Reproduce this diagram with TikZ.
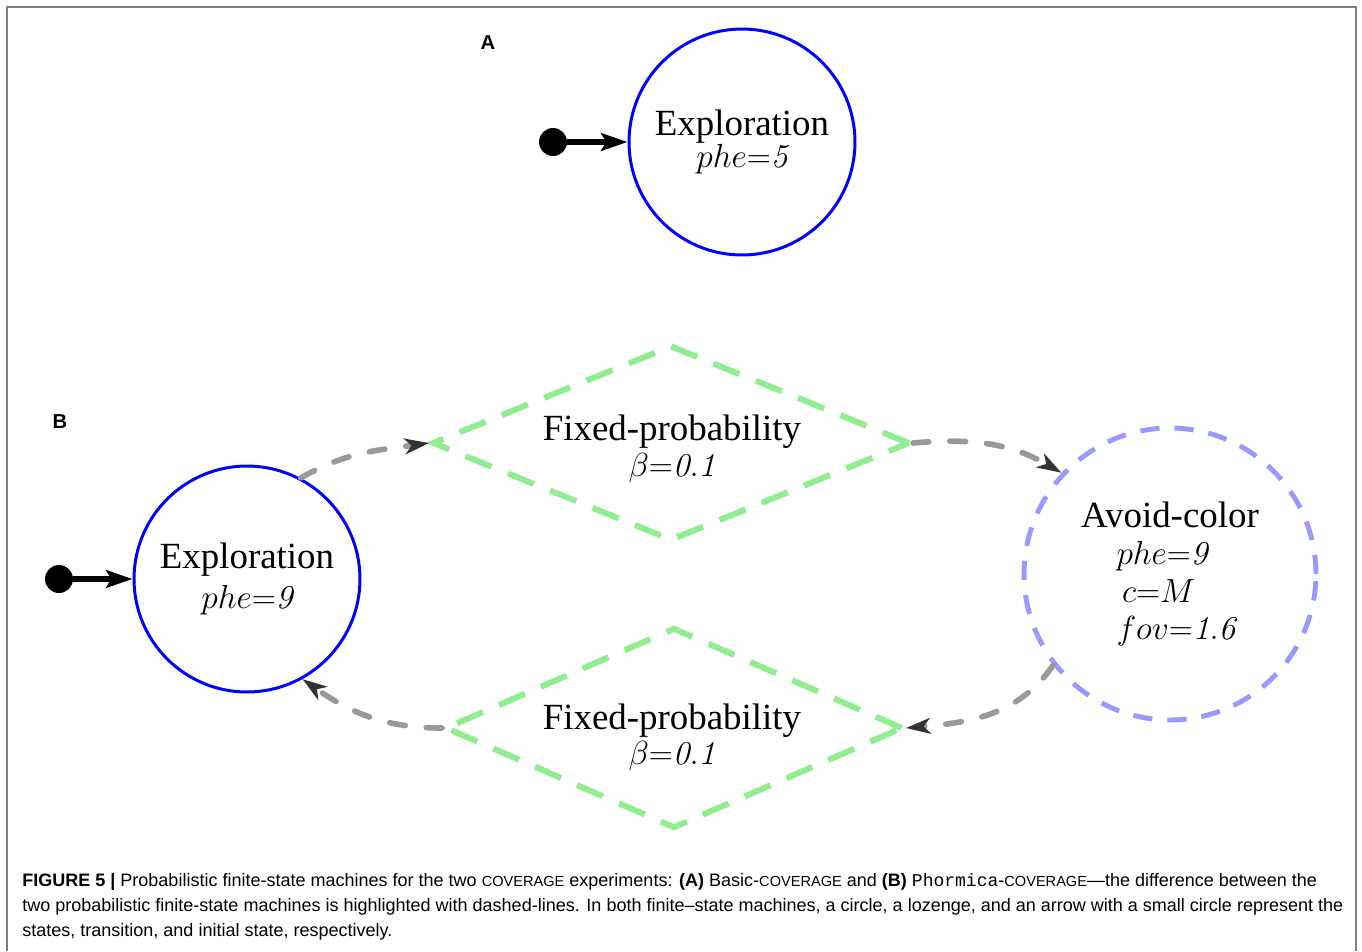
\RequirePackage{fix-cm}
\documentclass[tikz,border=0pt]{standalone}
\usepackage{fontspec}
\usepackage{tikz}
\usetikzlibrary{shapes.geometric,arrows.meta}

\newfontfamily\capfont{Liberation Sans}
\newfontfamily\capmono{Liberation Mono}
\newfontfamily\namefont{Liberation Serif}
\newcommand\capsmall[1]{{\fontsize{8.3}{9}\selectfont #1}}
\newcommand\statename[1]{{\namefont\fontsize{21}{25}\selectfont #1}}
\newcommand\paramline[1]{\makebox[2.14cm][l]{#1}}

\definecolor{stategreen}{HTML}{90EE90}
\definecolor{statelav}{HTML}{9999FF}
\definecolor{arrowgray}{HTML}{999999}

\tikzset{
  state/.style={circle, draw=blue, line width=1.7pt, minimum size=4.52cm, inner sep=0pt,
    align=center, font=\fontsize{19}{23}\selectfont},
  newstate/.style={state, draw=statelav, line width=2.8pt, dash pattern=on 11pt off 8.5pt,
    minimum size=5.84cm},
  lozenge/.style={diamond, draw=stategreen, line width=3.4pt, dash pattern=on 16pt off 10pt,
    inner sep=0pt, minimum width=9.56cm, minimum height=3.92cm},
  fixtext/.style={align=center, inner sep=0pt, font=\fontsize{19}{23}\selectfont},
  startdot/.style={circle, fill=black, minimum size=0.56cm, inner sep=0pt},
  startarrow/.style={-{Stealth[length=15pt,width=10pt,inset=3pt]}, line width=3.2pt},
  trans/.style={arrowgray, line width=3.2pt, line cap=round, dash pattern=on 9pt off 12pt,
    -{Stealth[length=14pt,width=9pt,inset=4pt,fill=gray!40!black,color=gray!40!black]}},
  panel/.style={font=\capfont\bfseries\fontsize{11.5}{13}\selectfont},
  capline/.style={anchor=west, inner sep=0pt, font=\capfont\fontsize{10.25}{12}\selectfont}
}

\begin{document}
\begin{tikzpicture}[x=0.02cm, y=0.02cm]
    \useasboundingbox (0,0) rectangle (1362,-951);

    % Marco de la figura
    \draw[gray, line width=0.8pt] (7,-951) -- (7,-7) -- (1356,-7) -- (1356,-951);

    % Etiquetas de los paneles
    \node[panel] (labA) at (488,-43) {A};
    \node[panel] (labB) at (60,-422) {B};

    % Panel A: un solo estado con estado inicial
    \node[state] (explA) at (742,-142) {\statename{Exploration}\\[-5pt]$phe{=}\mathit{5}$};
    \node[startdot] (dotA) at (553,-142) {};
    \draw[startarrow] (dotA) -- (explA);

    % Panel B: estados
    \node[state] (explB) at (247,-579) {\statename{Exploration}\\[-0.5pt]$phe{=}\mathit{9}$};
    \node[startdot] (dotB) at (59,-579) {};
    \draw[startarrow] (dotB) -- (explB);
    \node[newstate] (avoid) at (1170,-574) {\statename{Avoid-color}\\[-2pt]
      \paramline{$phe{=}\mathit{9}$}\\[-1.5pt]
      \paramline{$\,c{=}M$}\\[-1.5pt]
      \paramline{$fov{=}\mathit{1.6}$}};

    % Panel B: transiciones (rombos)
    \node[lozenge] (fixA) at (671,-443) {};
    \node[fixtext] (fixAlbl) at (672,-449) {\statename{Fixed-probability}\\[-3pt]$\beta{=}\mathit{0.1}$};
    \node[lozenge, minimum width=9.16cm, minimum height=4.02cm] (fixB) at (674,-728) {};
    \node[fixtext] (fixBlbl) at (672,-737) {\statename{Fixed-probability}\\[-3pt]$\beta{=}\mathit{0.1}$};

    % Panel B: flechas entre estados y transiciones
    \draw[trans] (explB.62) to[out=30, in=188] (fixA.west);
    \draw[trans] (fixA.east) to[out=5, in=150] (avoid.137);
    \draw[trans] (avoid.218) to[out=235, in=5] (fixB.east);
    \draw[trans] (fixB.west) to[out=180, in=-35] (explB.-61);

    % Pie de figura
    \node[capline] (cap1) at (22,-882) {\textbf{FIGURE 5 |} Probabilistic finite-state machines for the two \capsmall{COVERAGE} experiments: \textbf{(A)} Basic-\capsmall{COVERAGE} and \textbf{(B)} {\capmono Phormica}-\capsmall{COVERAGE}—the difference between the};
    \node[capline] (cap2) at (22,-907) {two probabilistic finite-state machines is highlighted with dashed-lines. In both finite–state machines, a circle, a lozenge, and an arrow with a small circle represent the};
    \node[capline] (cap3) at (22,-932) {states, transition, and initial state, respectively.};
\end{tikzpicture}
\end{document}
